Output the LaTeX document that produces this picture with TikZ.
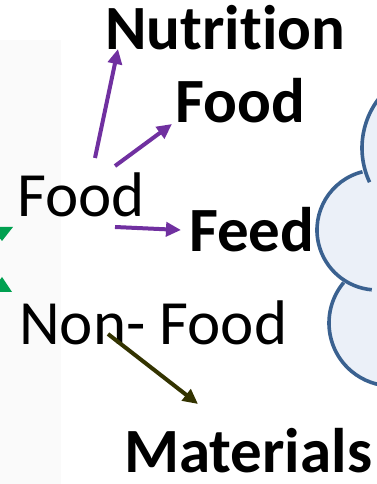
\documentclass[tikz,border=0pt]{standalone}
\usepackage{fontspec}
\setmainfont{Carlito}[Ligatures=CommonOff]
\usetikzlibrary{arrows.meta}
\definecolor{panelgray}{HTML}{FAFAFA}
\definecolor{arrowpurple}{HTML}{7030A0}
\definecolor{arrowolive}{HTML}{333300}
\definecolor{arrowgreen}{HTML}{00A050}
\definecolor{cloudline}{HTML}{3A6190}
\definecolor{cloudfill}{HTML}{EBF0F8}
\tikzset{
  label/.style={inner sep=0pt, anchor=base west, font=\fontsize{63}{70}\selectfont},
  boldlabel/.style={label, font=\fontsize{63}{70}\selectfont\bfseries},
  link/.style={line width=4pt, -{Triangle[length=15pt,width=14pt]}},
  cloudedge/.style={draw=cloudline, line width=3.6pt},
}
\begin{document}
\begin{tikzpicture}[x=1pt,y=1pt]
  \useasboundingbox (0,0) rectangle (377,484);
  \clip (0,0) rectangle (377,484);
  % pale side panel
  \fill[panelgray] (0,0) rectangle (61,444);

  % cloud on the right
  \fill[cloudfill] (443,336) circle (81);
  \fill[cloudfill] (377,254) circle (60);
  \fill[cloudfill] (392,161) circle (63);
  \draw[cloudedge] (443,336) ++(135:81) arc[start angle=135, end angle=205, radius=81];
  \draw[cloudedge] (377,254) ++(104:60) arc[start angle=104, end angle=265, radius=60];
  \draw[cloudedge] (392,161) ++(140:63) arc[start angle=140, end angle=270, radius=63];

  % labels
  \node[boldlabel] (nutrition) at (105,434) {Nutrition};
  \node[boldlabel] (foodout) at (175,361) {Food};
  \node[label] (food) at (17,267) {Food};
  \node[boldlabel] (feed) at (189,232) {Feed};
  \node[label] (nonfood) at (19,139) {Non- Food};
  \node[boldlabel] (materials) at (124,11) {Materials};

  % arrow end points
  \coordinate (t1) at (95,326);  \coordinate (h1) at (118,435);
  \coordinate (t2) at (115,318); \coordinate (h2) at (172,360);
  \coordinate (t3) at (115,257); \coordinate (h3) at (181,254);
  \coordinate (t4) at (108,150); \coordinate (h4) at (198,80);

  \draw[link, arrowpurple] (t1) -- (h1);
  \draw[link, arrowpurple] (t2) -- (h2);
  \draw[link, arrowpurple] (t3) -- (h3);
  \draw[link, arrowolive] (t4) -- (h4);

  % heads of the two green arrows coming in from the left
  \fill[arrowgreen] (-9,257) -- (13,257) -- (2,243) -- cycle;
  \fill[arrowgreen] (-9,192) -- (12,192) -- (2,207) -- cycle;
\end{tikzpicture}
\end{document}
